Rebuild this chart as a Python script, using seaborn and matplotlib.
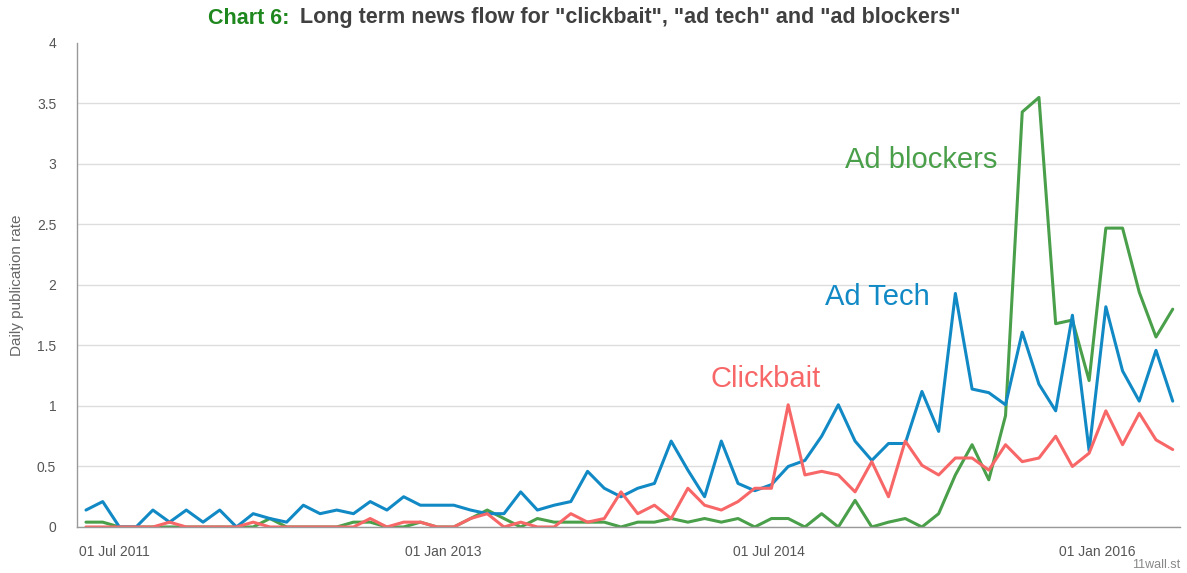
import pandas as pd
import matplotlib
matplotlib.use('agg')
import matplotlib.pyplot as plt
import seaborn as sns

# 4-weekly samples, mid May 2011 -> early May 2016
dates = pd.date_range('2011-05-14', periods=66, freq='28D')

ad_tech = [0.14, 0.21, 0, 0, 0.14, 0.04, 0.14, 0.04, 0.14, 0, 0.11, 0.07, 0.04, 0.18, 0.11, 0.14, 0.11,
           0.21, 0.14, 0.25, 0.18, 0.18, 0.18, 0.14, 0.11, 0.11, 0.29, 0.14, 0.18, 0.21, 0.46, 0.32, 0.25, 0.32,
           0.36, 0.71, 0.47, 0.25, 0.71, 0.36, 0.30, 0.35, 0.50, 0.55, 0.75, 1.01, 0.71, 0.55, 0.69, 0.69, 1.12,
           0.79, 1.93, 1.14, 1.11, 1.01, 1.61, 1.18, 0.96, 1.75, 0.63, 1.82, 1.29, 1.04, 1.46, 1.04]

clickbait = [0, 0, 0, 0, 0, 0.04, 0, 0, 0, 0, 0.04, 0, 0, 0, 0, 0, 0,
             0.07, 0, 0.04, 0.04, 0, 0, 0.07, 0.11, 0, 0.04, 0, 0, 0.11, 0.04, 0.07, 0.29, 0.11,
             0.18, 0.07, 0.32, 0.18, 0.14, 0.21, 0.32, 0.32, 1.01, 0.43, 0.46, 0.43, 0.29, 0.54, 0.25, 0.71, 0.51,
             0.43, 0.57, 0.57, 0.47, 0.68, 0.54, 0.57, 0.75, 0.50, 0.61, 0.96, 0.68, 0.94, 0.72, 0.64]

ad_blockers = [0.04, 0.04, 0, 0, 0, 0, 0, 0, 0, 0, 0, 0.07, 0, 0, 0, 0, 0.04,
               0.04, 0, 0, 0.04, 0, 0, 0.07, 0.14, 0.07, 0, 0.07, 0.04, 0.04, 0.04, 0.04, 0, 0.04,
               0.04, 0.07, 0.04, 0.07, 0.04, 0.07, 0, 0.07, 0.07, 0, 0.11, 0, 0.22, 0, 0.04, 0.07, 0,
               0.11, 0.43, 0.68, 0.39, 0.92, 3.43, 3.55, 1.68, 1.71, 1.21, 2.47, 2.47, 1.94, 1.57, 1.80]

series_names = ['Ad blockers', 'Ad Tech', 'Clickbait']
colors = {'Ad blockers': '#4a9f4a', 'Ad Tech': '#1189c5', 'Clickbait': '#f86767'}

df = pd.concat([
    pd.DataFrame({'date': dates, 'rate': ad_blockers, 'series': 'Ad blockers'}),
    pd.DataFrame({'date': dates, 'rate': ad_tech, 'series': 'Ad Tech'}),
    pd.DataFrame({'date': dates, 'rate': clickbait, 'series': 'Clickbait'}),
])

sns.set_style('white')
plt.rcParams['font.family'] = ['Liberation Sans', 'DejaVu Sans']

fig = plt.figure(figsize=(11.87, 5.73), dpi=100)
ax = fig.add_axes([0.0649, 0.0803, 0.9291, 0.8447])

sns.lineplot(data=df, x='date', y='rate', hue='series', hue_order=series_names,
             palette=colors, linewidth=2.2, legend=False, ax=ax)

# axes styling
ax.set_xlim(pd.Timestamp('2011-04-29'), pd.Timestamp('2016-05-19'))
ax.set_ylim(0, 4)
yticks = [0, 0.5, 1, 1.5, 2, 2.5, 3, 3.5, 4]
ax.set_yticks(yticks)
ax.set_yticklabels(['{:g}'.format(v) for v in yticks])
ax.yaxis.grid(True, color='#dddddd', linewidth=1)
ax.get_ygridlines()[-1].set_visible(False)
ax.set_axisbelow(True)

xticks = pd.date_range('2011-07-01', '2016-01-01', freq='6MS')
ax.set_xticks(xticks)
ax.set_xticklabels([d.strftime('%d %b %Y') if i % 3 == 0 else '' for i, d in enumerate(xticks)])

for side in ['top', 'right']:
    ax.spines[side].set_visible(False)
for side in ['left', 'bottom']:
    ax.spines[side].set_color('#999999')
    ax.spines[side].set_linewidth(1)
ax.tick_params(axis='both', colors='#999999', labelcolor='#555555', labelsize=10,
               length=5, width=1, direction='out')
ax.tick_params(axis='x', pad=8)
ax.tick_params(axis='y', pad=10)
ax.set_xlabel('')
ax.set_ylabel('Daily publication rate', color='#666666', fontsize=11, labelpad=9)

# series labels
ax.text(0.696, 0.758, 'Ad blockers', transform=ax.transAxes, color=colors['Ad blockers'],
        fontsize=21, va='center', ha='left')
ax.text(0.678, 0.475, 'Ad Tech', transform=ax.transAxes, color=colors['Ad Tech'],
        fontsize=21, va='center', ha='left')
ax.text(0.574, 0.306, 'Clickbait', transform=ax.transAxes, color=colors['Clickbait'],
        fontsize=21, va='center', ha='left')

# title in two colours
t1 = fig.text(208 / 1187, 1 - 18 / 573, 'Chart 6:', color='#1e881e', fontsize=15.5,
              fontweight='bold', va='center', ha='left')
fig.canvas.draw()
bb = t1.get_window_extent()
fig.text((bb.x1 + 11) / 1187, 1 - 18 / 573,
         'Long term news flow for "clickbait", "ad tech" and "ad blockers"',
         color='#404040', fontsize=15.5, fontweight='bold', va='center', ha='left')

fig.text(1180 / 1187, 1 - 565 / 573, '11wall.st', color='#888888', fontsize=9,
         ha='right', va='center')

fig.savefig('out.png', dpi=100)
